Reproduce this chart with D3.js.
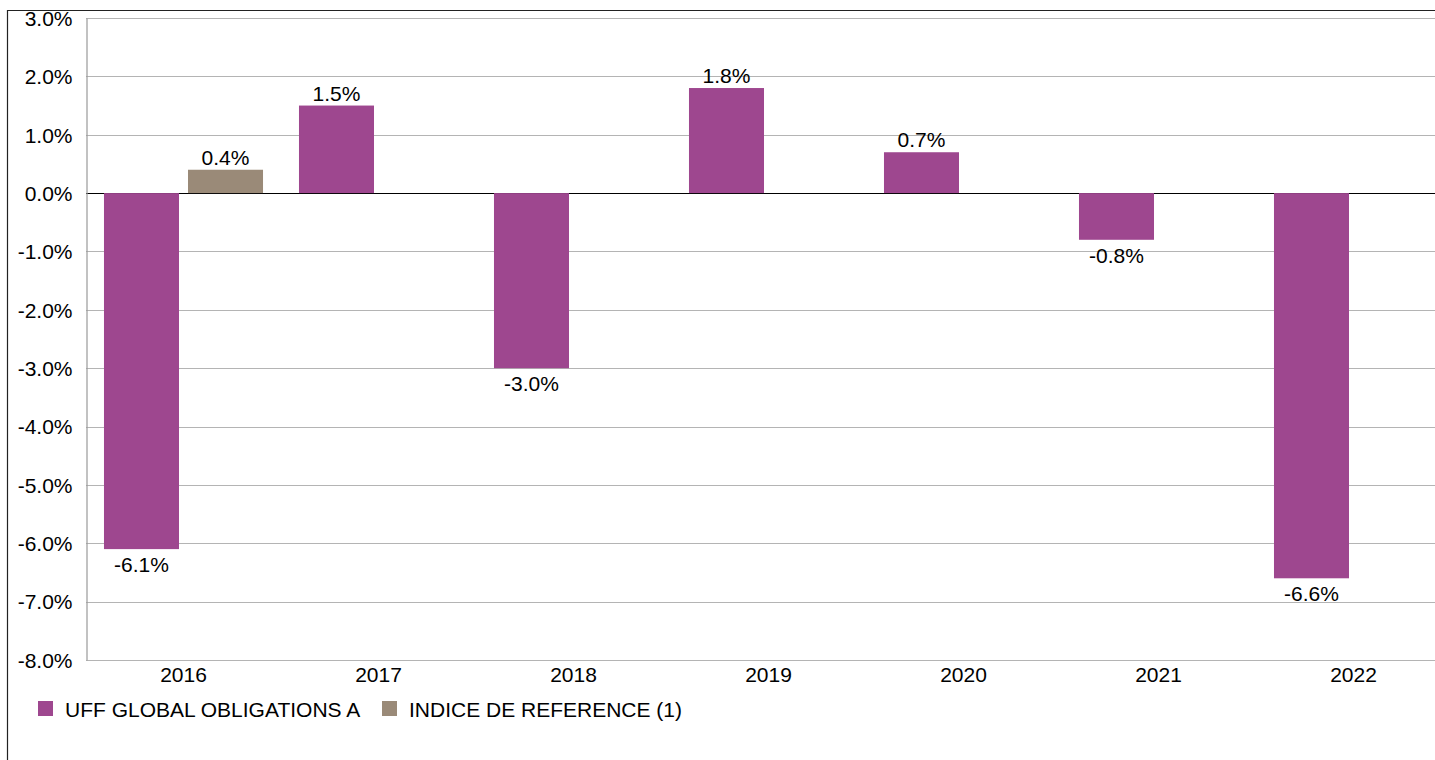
<!DOCTYPE html>
<html>
<head>
<meta charset="utf-8">
<script src="https://cdn.jsdelivr.net/npm/d3@7"></script>
<style>
  body { margin: 0; background: #fff; }
  text { font-family: "Liberation Sans", Arial, sans-serif; fill: #000; }
</style>
</head>
<body>
<div id="chart"></div>
<script>
var years  = ['2016', '2017', '2018', '2019', '2020', '2021', '2022'];
var series = ['UFF GLOBAL OBLIGATIONS A', 'INDICE DE REFERENCE (1)'];
var fund   = [-6.1, 1.5, -3.0, 1.8, 0.7, -0.8, -6.6];
var index  = [0.4, null, null, null, null, null, null];
var y_ticks = [3, 2, 1, 0, -1, -2, -3, -4, -5, -6, -7, -8];
var colors = ['#9e478f', '#9a8a78'];

var width  = 1435;
var height = 760;
var left   = 86;
var right  = 1451;
var top_y  = 18;
var bottom = 660;
var font   = '21px';

var svg = d3.select('#chart')
	.append('svg')
	.attr('width', width)
	.attr('height', height);

// outer frame
svg.append('path')
	.attr('d', 'M7.5,' + height + 'V10.5H' + width)
	.attr('fill', 'none')
	.attr('stroke', '#222')
	.attr('stroke-width', 1.2);

var x0 = d3.scaleBand()
	.domain(years)
	.range([left, right]);

var x1 = d3.scaleBand()
	.domain(series)
	.range([0, x0.bandwidth()])
	.paddingInner(0.107)
	.paddingOuter(0.214);

var y = d3.scaleLinear()
	.domain([-8, 3])
	.range([bottom, top_y]);

// grid lines
svg.append('g')
	.selectAll('line')
	.data(y_ticks)
	.enter()
	.append('line')
	.attr('x1', left)
	.attr('x2', right)
	.attr('y1', function(d) { return Math.round(y(d)) + 0.5; })
	.attr('y2', function(d) { return Math.round(y(d)) + 0.5; })
	.attr('stroke', function(d) { return d === 0 ? '#000' : '#b4b4b4'; })
	.attr('stroke-width', 1.2);

// y axis
var y_axis = d3.axisLeft(y)
	.tickValues(y_ticks)
	.tickSize(0)
	.tickPadding(14)
	.tickFormat(function(d) { return d.toFixed(1) + '%'; });

var gy = svg.append('g')
	.attr('transform', 'translate(' + (left + 0.5) + ',0)')
	.call(y_axis);
gy.select('.domain').attr('stroke', '#999').attr('stroke-width', 1.2);
gy.selectAll('text')
	.style('font-size', font)
	.attr('dy', '0.35em');

// x axis labels
var x_axis = d3.axisBottom(x0).tickSize(0).tickPadding(7);
var gx = svg.append('g')
	.attr('transform', 'translate(0,' + bottom + ')')
	.call(x_axis);
gx.select('.domain').remove();
gx.selectAll('text').style('font-size', font);

// bars
var rows = [];
years.forEach(function(yr, i) {
	rows.push({ year: yr, s: 0, v: fund[i] });
	if (index[i] !== null) rows.push({ year: yr, s: 1, v: index[i] });
});

svg.append('g')
	.selectAll('rect')
	.data(rows)
	.enter()
	.append('rect')
	.attr('x', function(d) { return x0(d.year) + x1(series[d.s]); })
	.attr('width', x1.bandwidth())
	.attr('y', function(d) { return y(Math.max(0, d.v)); })
	.attr('height', function(d) { return Math.abs(y(d.v) - y(0)); })
	.attr('fill', function(d) { return colors[d.s]; });

// value labels
svg.append('g')
	.selectAll('text')
	.data(rows)
	.enter()
	.append('text')
	.attr('x', function(d) { return x0(d.year) + x1(series[d.s]) + x1.bandwidth() / 2; })
	.attr('y', function(d) { return d.v >= 0 ? y(d.v) - 5 : y(d.v) + 23; })
	.attr('text-anchor', 'middle')
	.style('font-size', font)
	.text(function(d) { return d.v.toFixed(1) + '%'; });

// legend
var legend_x = [38, 382];
var lg = svg.append('g')
	.selectAll('g')
	.data(series)
	.enter()
	.append('g')
	.attr('transform', function(d, i) { return 'translate(' + legend_x[i] + ',701)'; });
lg.append('rect')
	.attr('width', 15)
	.attr('height', 15)
	.attr('fill', function(d, i) { return colors[i]; });
lg.append('text')
	.attr('x', 27)
	.attr('y', 16)
	.style('font-size', font)
	.text(function(d) { return d; });
</script>
</body>
</html>
